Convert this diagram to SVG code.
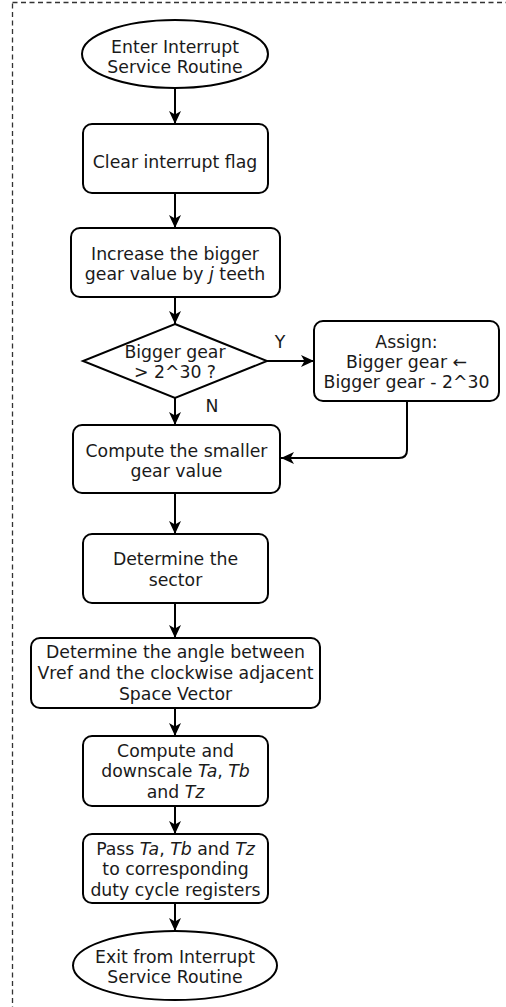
<svg xmlns="http://www.w3.org/2000/svg" width="506" height="1007" viewBox="0 0 506 1007">
<defs>
<style>
.n{fill:#fff;stroke:#000;stroke-width:2}
.t{font-family:"DejaVu Sans","Verdana",sans-serif;font-size:17.3px;fill:#1a1a1a;text-anchor:middle}
.c{fill:none;stroke:#000;stroke-width:2}
.i{font-style:italic}
</style>
<marker id="ah" markerUnits="userSpaceOnUse" markerWidth="14" markerHeight="14" viewBox="0 0 14 14" refX="13" refY="7" orient="auto">
<path d="M0,1 L13,7 L0,13 L3.5,7 Z" fill="#000"/>
</marker>
</defs>
<rect x="12.5" y="2.5" width="520" height="1030" fill="none" stroke="#333" stroke-width="1.3" stroke-dasharray="5 3.5"/>
<g id="connectors">
<line class="c" x1="175" y1="88" x2="175" y2="124" marker-end="url(#ah)"/>
<line class="c" x1="175" y1="193" x2="175" y2="228" marker-end="url(#ah)"/>
<line class="c" x1="175" y1="297" x2="175" y2="324" marker-end="url(#ah)"/>
<line class="c" x1="267" y1="361" x2="314" y2="361" marker-end="url(#ah)"/>
<line class="c" x1="175" y1="398" x2="175" y2="425" marker-end="url(#ah)"/>
<path class="c" d="M407,401 V450 Q407,458 399,458 H281" marker-end="url(#ah)"/>
<line class="c" x1="175" y1="493" x2="175" y2="534" marker-end="url(#ah)"/>
<line class="c" x1="175" y1="603" x2="175" y2="638" marker-end="url(#ah)"/>
<line class="c" x1="175" y1="708" x2="175" y2="736" marker-end="url(#ah)"/>
<line class="c" x1="175" y1="806" x2="175" y2="834" marker-end="url(#ah)"/>
<line class="c" x1="175" y1="903" x2="175" y2="931" marker-end="url(#ah)"/>
<text class="t" x="280" y="348">Y</text>
<text class="t" x="212" y="412">N</text>
</g>
<g id="start">
<ellipse class="n" cx="175" cy="54" rx="93" ry="34"/>
<text class="t" x="175" y="53">Enter Interrupt</text>
<text class="t" x="175" y="73">Service Routine</text>
</g>
<g id="clear">
<rect class="n" x="83" y="124" width="185" height="69" rx="9"/>
<text class="t" x="175" y="168">Clear interrupt flag</text>
</g>
<g id="increase">
<rect class="n" x="71" y="228" width="209" height="69" rx="9"/>
<text class="t" x="175" y="260">Increase the bigger</text>
<text class="t" x="175" y="280">gear value by <tspan class="i">j</tspan> teeth</text>
</g>
<g id="decision">
<polygon class="n" points="175,324 267,361 175,398 83,361"/>
<text class="t" x="175" y="358">Bigger gear</text>
<text class="t" x="175" y="378">&gt; 2^30 ?</text>
</g>
<g id="assign">
<rect class="n" x="314" y="321" width="185" height="80" rx="9"/>
<text class="t" x="406.5" y="348">Assign:</text>
<text class="t" x="406.5" y="368">Bigger gear ←</text>
<text class="t" x="406.5" y="388">Bigger gear - 2^30</text>
</g>
<g id="smaller">
<rect class="n" x="73" y="425" width="207" height="68" rx="9"/>
<text class="t" x="176.5" y="457">Compute the smaller</text>
<text class="t" x="176.5" y="477">gear value</text>
</g>
<g id="sector">
<rect class="n" x="83" y="534" width="185" height="69" rx="9"/>
<text class="t" x="175.5" y="565">Determine the</text>
<text class="t" x="175.5" y="586">sector</text>
</g>
<g id="angle">
<rect class="n" x="31" y="638" width="289" height="70" rx="9"/>
<text class="t" x="175.5" y="658">Determine the angle between</text>
<text class="t" x="175.5" y="679">Vref and the clockwise adjacent</text>
<text class="t" x="175.5" y="700">Space Vector</text>
</g>
<g id="compute">
<rect class="n" x="83" y="736" width="185" height="70" rx="9"/>
<text class="t" x="175.5" y="757">Compute and</text>
<text class="t" x="175.5" y="777">downscale <tspan class="i">Ta</tspan>, <tspan class="i">Tb</tspan></text>
<text class="t" x="175.5" y="798">and <tspan class="i">Tz</tspan></text>
</g>
<g id="pass">
<rect class="n" x="83" y="834" width="185" height="69" rx="9"/>
<text class="t" x="175.5" y="855">Pass <tspan class="i">Ta</tspan>, <tspan class="i">Tb</tspan> and <tspan class="i">Tz</tspan></text>
<text class="t" x="175.5" y="875">to corresponding</text>
<text class="t" x="175.5" y="896">duty cycle registers</text>
</g>
<g id="end">
<ellipse class="n" cx="175" cy="965.5" rx="102" ry="34.5"/>
<text class="t" x="175" y="963">Exit from Interrupt</text>
<text class="t" x="175" y="983">Service Routine</text>
</g>
</svg>
